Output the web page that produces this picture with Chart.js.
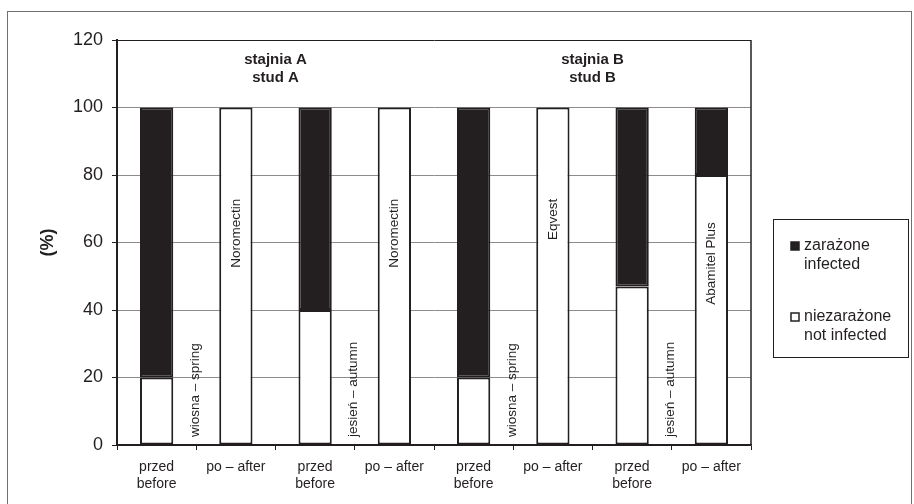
<!DOCTYPE html>
<html>
<head>
<meta charset="utf-8">
<script src="https://cdn.jsdelivr.net/npm/chart.js@4.4.1/dist/chart.umd.min.js"></script>
<style>
  html, body { margin: 0; padding: 0; background: #fff; }
  #wrap { width: 914px; height: 504px; }
</style>
</head>
<body>
<div id="wrap"><canvas id="chart" width="914" height="504"></canvas></div>
<script>
// categories (x axis)
const labels = [
  ["przed", "before"], ["po \u2013 after"],
  ["przed", "before"], ["po \u2013 after"],
  ["przed", "before"], ["po \u2013 after"],
  ["przed", "before"], ["po \u2013 after"]
];
// % of horses
const notInfected = [20, 100, 40, 100, 20, 100, 47, 80];
const infected = [80, 0, 60, 0, 80, 0, 53, 20];

// texts inside the bars (drug names)
const barNotes = ["", "Noromectin", "", "Noromectin", "", "Eqvest", "", "Abamitel Plus"];
// season texts, between bar i and i+1
const seasonNotes = [
  { after: 0, text: "wiosna \u2013 spring" },
  { after: 2, text: "jesie\u0144 \u2013 autumn" },
  { after: 4, text: "wiosna \u2013 spring" },
  { after: 6, text: "jesie\u0144 \u2013 autumn" }
];
// stable headers, centred over 4 bars each
const groups = [
  { from: 0, to: 3, lines: ["stajnia A", "stud A"] },
  { from: 4, to: 7, lines: ["stajnia B", "stud B"] }
];

const dark = "#231f20";
const font = "'Liberation Sans', Arial, sans-serif";

const framePlugin = {
  id: "frame",
  beforeDraw(chart) {
    const c = chart.ctx;
    c.save();
    c.fillStyle = "#fff";
    c.fillRect(0, 0, chart.width, chart.height);
    c.strokeStyle = "#707070";
    c.lineWidth = 1;
    c.strokeRect(7.5, 11.5, 904, 520);
    c.restore();
  }
};

const notesPlugin = {
  id: "notes",
  afterDatasetsDraw(chart, args, opts) {
    const c = chart.ctx;
    const x = chart.scales.x;
    const y = chart.scales.y;
    const area = chart.chartArea;
    c.save();

    // right edge of plot
    c.strokeStyle = dark;
    c.lineWidth = 1.5;
    c.beginPath();
    c.moveTo(area.right, area.top);
    c.lineTo(area.right, area.bottom);
    c.stroke();

    c.fillStyle = dark;
    c.font = "13.5px " + font;
    c.textBaseline = "middle";

    // drug names, rotated, in the white part of the bar
    barNotes.forEach((t, i) => {
      if (!t) return;
      c.save();
      c.translate(x.getPixelForValue(i), y.getPixelForValue(opts.noteTop[i]));
      c.rotate(-Math.PI / 2);
      c.textAlign = "right";
      c.fillText(t, 0, 0);
      c.restore();
    });

    // season texts, rotated, standing on the base
    seasonNotes.forEach(s => {
      const px = (x.getPixelForValue(s.after) + x.getPixelForValue(s.after + 1)) / 2;
      c.save();
      c.translate(px - 1, y.getPixelForValue(0) - 8);
      c.rotate(-Math.PI / 2);
      c.textAlign = "left";
      c.fillText(s.text, 0, 0);
      c.restore();
    });

    // stable headers
    c.font = "bold 15px " + font;
    c.textAlign = "center";
    groups.forEach(g => {
      const px = (x.getPixelForValue(g.from) + x.getPixelForValue(g.to)) / 2;
      const py = y.getPixelForValue(114);
      g.lines.forEach((l, k) => c.fillText(l, px, py + k * 18));
    });

    // y title
    c.save();
    c.font = "bold 18px " + font;
    c.translate(48, (area.top + area.bottom) / 2);
    c.rotate(-Math.PI / 2);
    c.fillText("(%)", 0, 0);
    c.restore();

    c.restore();
  }
};

// legend in a box on the right
const legendPlugin = {
  id: "boxLegend",
  afterDraw(chart) {
    const c = chart.ctx;
    const bx = 773, by = 219, bw = 135, bh = 138;
    c.save();
    c.strokeStyle = dark;
    c.lineWidth = 1;
    c.strokeRect(bx + 0.5, by + 0.5, bw, bh);
    c.font = "16px " + font;
    c.textBaseline = "middle";
    c.textAlign = "left";
    const order = [1, 0];
    order.forEach((di, k) => {
      const ds = chart.data.datasets[di];
      const lines = ds.label.split("\n");
      const top = by + 27 + k * 71;
      c.fillStyle = ds.backgroundColor;
      c.fillRect(791, top - 4, 8, 8);
      c.strokeStyle = dark;
      c.lineWidth = 1.5;
      c.strokeRect(791, top - 4, 8, 8);
      c.fillStyle = dark;
      lines.forEach((l, j) => c.fillText(l, 804, top + j * 19));
    });
    c.restore();
  }
};

new Chart(document.getElementById("chart"), {
  type: "bar",
  data: {
    labels: labels,
    datasets: [
      {
        label: "niezara\u017cone\nnot infected",
        data: notInfected,
        backgroundColor: "#ffffff",
        borderColor: dark,
        borderWidth: 2,
        borderSkipped: false
      },
      {
        label: "zara\u017cone\ninfected",
        data: infected,
        backgroundColor: dark,
        borderColor: dark,
        borderWidth: 2,
        borderSkipped: false
      }
    ]
  },
  options: {
    responsive: false,
    animation: false,
    devicePixelRatio: 1,
    layout: { padding: { left: 0, top: 40, right: 163, bottom: 0 } },
    datasets: { bar: { categoryPercentage: 1, barPercentage: 0.42 } },
    plugins: {
      legend: { display: false },
      tooltip: { enabled: false },
      notes: { noteTop: [0, 73, 0, 73, 0, 73, 0, 66] }
    },
    scales: {
      x: {
        stacked: true,
        afterFit: s => { s.height = 59; },
        grid: { offset: true, drawOnChartArea: false, tickLength: 5, color: dark, lineWidth: 1 },
        border: { color: dark, width: 1.5 },
        ticks: { color: dark, font: { family: font, size: 14 }, padding: 9, maxRotation: 0 }
      },
      y: {
        stacked: true,
        min: 0,
        max: 120,
        afterFit: s => { s.width = 117; },
        grid: {
          color: ctx => (ctx.tick.value === 120 || ctx.tick.value === 0) ? dark : "#8c8c8c",
          tickColor: dark,
          tickLength: 5,
          lineWidth: 1
        },
        border: { color: dark, width: 2 },
        ticks: { stepSize: 20, color: dark, font: { family: font, size: 18 }, padding: 9 }
      }
    }
  },
  plugins: [framePlugin, notesPlugin, legendPlugin]
});
</script>
</body>
</html>
